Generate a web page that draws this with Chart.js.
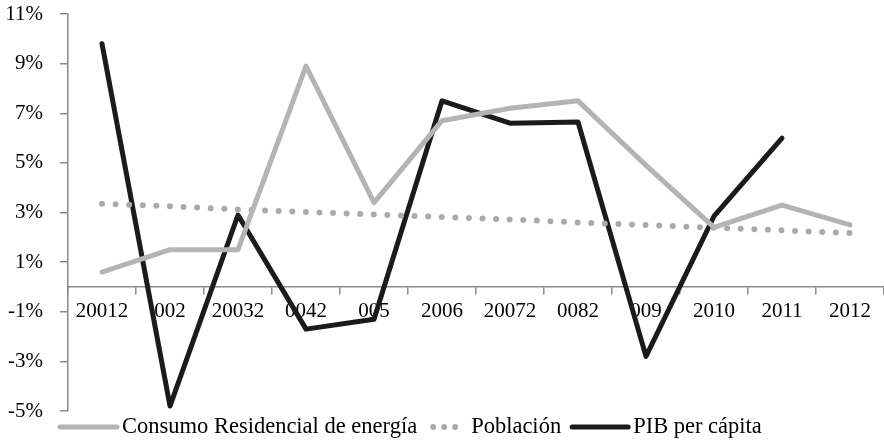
<!DOCTYPE html>
<html lang="es">
<head>
<meta charset="UTF-8" />
<title>Consumo residencial de energía, población y PIB per cápita</title>
<script src="https://cdn.jsdelivr.net/npm/chart.js@4.4.1/dist/chart.umd.min.js"></script>
<style>
  html, body { margin: 0; padding: 0; background: #fff; }
  #wrap { width: 884px; height: 443px; }
</style>
</head>
<body>
<div id="wrap"><canvas id="myChart"></canvas></div>
<script>
// etiquetas tal como aparecen en el gráfico original
const years = ["20012", "002", "20032", "0042", "005", "2006", "20072", "0082", "009", "2010", "2011", "2012"];
const consumo = [0.6, 1.5, 1.5, 8.9, 3.4, 6.7, 7.2, 7.5, 4.9, 2.4, 3.3, 2.5];
const poblacion = [3.35, 3.25, 3.12, 3.02, 2.92, 2.82, 2.72, 2.6, 2.5, 2.38, 2.28, 2.17];
const pib = [9.8, -4.8, 2.9, -1.7, -1.3, 7.5, 6.6, 6.65, -2.8, 2.85, 6.0, null];
const yTicks = [-5, -3, -1, 1, 3, 5, 7, 9, 11];

const seriesNames = ["Consumo Residencial de energía", "Población", "PIB per cápita"];

const GREY = "#b4b4b4";
const DOTS = "#aaaaaa";
const BLACK = "#1b1b1b";
const AXIS = "#8a8a8a";
const FAMILY = "'Liberation Serif', 'Times New Roman', serif";
const FONT = { family: FAMILY, size: 21 };
const LEGEND_SIZE = 22.5;

// leyenda dibujada a mano, para poder tener la muestra de puntos corta
const bottomLegend = {
  id: "bottomLegend",
  afterDraw(chart) {
    const ctx = chart.ctx;
    const y = 427;
    let x = 57;
    const samples = [63, 36, 62];
    const gaps = [2, 5, 2];
    const spacing = [13, 8, 0];
    ctx.save();
    ctx.font = LEGEND_SIZE + "px " + FAMILY;
    ctx.textBaseline = "middle";
    ctx.fillStyle = "#000";
    chart.data.datasets.forEach((ds, i) => {
      ctx.beginPath();
      ctx.strokeStyle = ds.borderColor;
      ctx.lineWidth = ds.borderWidth;
      ctx.lineCap = "round";
      if (ds.borderDash) ctx.setLineDash([0, 11]);
      else ctx.setLineDash([]);
      ctx.moveTo(x + 3, y);
      ctx.lineTo(x + samples[i] - 3, y);
      ctx.stroke();
      x += samples[i] + gaps[i];
      ctx.fillText(ds.label, x, y);
      x += ctx.measureText(ds.label).width + spacing[i];
    });
    ctx.restore();
  },
};

const ctx = document.getElementById("myChart");

new Chart(ctx, {
  type: "line",
  data: {
    labels: years,
    datasets: [
      {
        label: seriesNames[0],
        data: consumo,
        borderColor: GREY,
        backgroundColor: GREY,
        borderWidth: 5,
        borderJoinStyle: "round",
        borderCapStyle: "round",
      },
      {
        label: seriesNames[1],
        data: poblacion,
        borderColor: DOTS,
        backgroundColor: DOTS,
        borderWidth: 6,
        borderDash: [0, 13.6],
        borderCapStyle: "round",
      },
      {
        label: seriesNames[2],
        data: pib,
        borderColor: BLACK,
        backgroundColor: BLACK,
        borderWidth: 5,
        borderJoinStyle: "round",
        borderCapStyle: "round",
      },
    ],
  },
  options: {
    responsive: true,
    maintainAspectRatio: false,
    animation: false,
    layout: { padding: { top: 14, right: 0, bottom: 32, left: 0 } },
    elements: { point: { radius: 0, hoverRadius: 0 }, line: { tension: 0 } },
    plugins: {
      legend: { display: false },
      tooltip: { enabled: false },
    },
    scales: {
      x: {
        type: "category",
        position: { y: 0 },
        offset: true,
        // el eje cruza en 0, no debe quitar espacio al área del gráfico
        afterFit(scale) {
          scale.height = 0;
          scale.paddingTop = 0;
          scale.paddingBottom = 0;
        },
        grid: {
          offset: true,
          drawOnChartArea: false,
          tickLength: 7,
          color: AXIS,
          lineWidth: 1.5,
        },
        border: { color: AXIS, width: 1.5 },
        ticks: { font: FONT, color: "#000", padding: 5, maxRotation: 0, autoSkip: false },
      },
      y: {
        min: -5,
        max: 11,
        afterFit(scale) {
          scale.width = 68;
          scale.paddingTop = 10;
        },
        afterBuildTicks(scale) {
          scale.ticks = yTicks.map((v) => ({ value: v }));
        },
        grid: {
          drawOnChartArea: false,
          tickLength: 8,
          color: AXIS,
          lineWidth: 1.5,
        },
        border: { color: AXIS, width: 1.5 },
        ticks: {
          font: FONT,
          color: "#000",
          padding: 17,
          callback: (v) => v + "%",
        },
      },
    },
  },
  plugins: [bottomLegend],
});
</script>
</body>
</html>
